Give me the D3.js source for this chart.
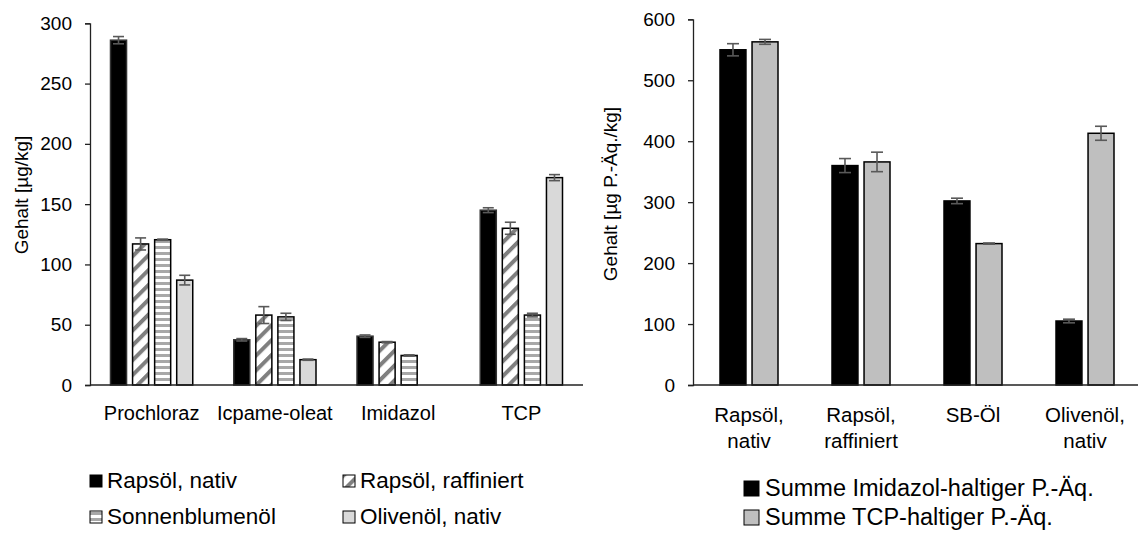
<!DOCTYPE html>
<html>
<head>
<meta charset="utf-8">
<script src="https://cdn.jsdelivr.net/npm/d3@7"></script>
<style>
  body { margin: 0; background: #fff; }
  svg text { font-family: "Liberation Sans", Arial, sans-serif; fill: #000; }
</style>
</head>
<body>
<svg id="chart" width="1138" height="538"></svg>
<script>
// left chart data
var categories = ['Prochloraz', 'Icpame-oleat', 'Imidazol', 'TCP'];
var seriesNames = ['Rapsöl, nativ', 'Rapsöl, raffiniert', 'Sonnenblumenöl', 'Olivenöl, nativ'];
var rapsNativ = [286, 37.5, 40.5, 145];
var rapsNativErr = [3, 1, 1, 2];
var rapsRaff = [117, 58, 35.5, 130];
var rapsRaffErr = [5, 7, 0.5, 5];
var sonnen = [120.5, 56.5, 24.5, 58];
var sonnenErr = [0.5, 3, 0.5, 1.5];
var oliven = [87, 21, 0, 172];
var olivenErr = [4, 0.5, 0, 2.5];
var leftTicks = [0, 50, 100, 150, 200, 250, 300];

// right chart data
var oils = [['Rapsöl,', 'nativ'], ['Rapsöl,', 'raffiniert'], ['SB-Öl'], ['Olivenöl,', 'nativ']];
var sumNames = ['Summe Imidazol-haltiger P.-Äq.', 'Summe TCP-haltiger P.-Äq.'];
var sumImidazol = [550, 360, 302, 105];
var sumImidazolErr = [10, 11.5, 4.5, 3];
var sumTcp = [563, 366, 232, 413];
var sumTcpErr = [4, 16, 1, 11.5];
var rightTicks = [0, 100, 200, 300, 400, 500, 600];

var svg = d3.select("#chart");

// patterns
var defs = svg.append("defs");
var diag = defs.append("pattern")
    .attr("id", "diag")
    .attr("patternUnits", "userSpaceOnUse")
    .attr("width", 10.5).attr("height", 10.5)
    .attr("patternTransform", "rotate(45)");
diag.append("rect").attr("width", 10.5).attr("height", 10.5).attr("fill", "#fff");
diag.append("rect").attr("width", 4).attr("height", 10.5).attr("fill", "#7f7f7f");

var horiz = defs.append("pattern")
    .attr("id", "horiz")
    .attr("patternUnits", "userSpaceOnUse")
    .attr("width", 6).attr("height", 6);
horiz.append("rect").attr("width", 6).attr("height", 6).attr("fill", "#fff");
horiz.append("rect").attr("width", 6).attr("height", 3).attr("fill", "#a8a8a8");

var leftFills = ["#000", "url(#diag)", "url(#horiz)", "#d9d9d9"];
var rightFills = ["#000", "#bfbfbf"];

function drawYAxis(g, scale, ticks, x) {
  var ax = g.append("g")
    .attr("transform", "translate(" + x + ",0)")
    .call(d3.axisLeft(scale).tickValues(ticks).tickSize(5).tickPadding(13));
  ax.select(".domain").attr("stroke", "#222").attr("stroke-width", 1.3);
  ax.selectAll(".tick line").attr("stroke", "#222").attr("stroke-width", 1.3);
  ax.selectAll("text").style("font-size", "19px").attr("font-family", null);
  return ax;
}

// ---------- left chart ----------
var left = svg.append("g");
var xL = d3.scaleBand().domain(categories).range([90, 583]);
var yL = d3.scaleLinear().domain([0, 300]).range([385, 23.3]);
var subL = d3.scaleBand().domain(d3.range(4))
  .range([20.5, xL.bandwidth() - 20.5]).paddingInner(0.273);

var leftData = [
  {vals: rapsNativ, err: rapsNativErr},
  {vals: rapsRaff, err: rapsRaffErr},
  {vals: sonnen, err: sonnenErr},
  {vals: oliven, err: olivenErr}
];

var leftBars = [];
categories.forEach(function(c, ci) {
  leftData.forEach(function(s, si) {
    leftBars.push({cat: c, s: si, v: s.vals[ci], e: s.err[ci]});
  });
});

left.selectAll("rect.bar").data(leftBars.filter(function(d) { return d.v > 0; }))
  .enter().append("rect")
  .attr("class", "bar")
  .attr("x", function(d) { return xL(d.cat) + subL(d.s); })
  .attr("y", function(d) { return yL(d.v); })
  .attr("width", subL.bandwidth())
  .attr("height", function(d) { return yL(0) - yL(d.v); })
  .attr("fill", function(d) { return leftFills[d.s]; })
  .attr("stroke", function(d) { return d.s === 0 ? "#333" : "#000"; })
  .attr("stroke-width", 1.5);

// error bars
var errL = left.selectAll("g.err").data(leftBars.filter(function(d) { return d.v > 0; }))
  .enter().append("g")
  .attr("transform", function(d) {
    return "translate(" + (xL(d.cat) + subL(d.s) + subL.bandwidth() / 2) + ",0)"; })
  .attr("stroke", "#595959").attr("stroke-width", 1.6);
errL.append("line").attr("y1", function(d) { return yL(d.v + d.e); })
  .attr("y2", function(d) { return yL(d.v - d.e); });
errL.append("line").attr("x1", -5.5).attr("x2", 5.5)
  .attr("y1", function(d) { return yL(d.v + d.e); }).attr("y2", function(d) { return yL(d.v + d.e); });
errL.append("line").attr("x1", -5.5).attr("x2", 5.5)
  .attr("y1", function(d) { return yL(d.v - d.e); }).attr("y2", function(d) { return yL(d.v - d.e); });

drawYAxis(left, yL, leftTicks, 90);
left.append("line").attr("x1", 90).attr("x2", 583).attr("y1", yL(0)).attr("y2", yL(0))
  .attr("stroke", "#222").attr("stroke-width", 1.3);

left.selectAll("text.cat").data(categories).enter().append("text")
  .attr("x", function(d) { return xL(d) + xL.bandwidth() / 2; })
  .attr("y", 420)
  .attr("text-anchor", "middle")
  .style("font-size", "20px")
  .text(function(d) { return d; });

left.append("text")
  .attr("transform", "translate(28,195) rotate(-90)")
  .attr("text-anchor", "middle")
  .style("font-size", "19px")
  .text("Gehalt [µg/kg]");

// legend left
var legL = left.selectAll("g.leg").data(seriesNames).enter().append("g")
  .attr("transform", function(d, i) {
    return "translate(" + (i % 2 === 0 ? 90 : 343) + "," + (i < 2 ? 488 : 524) + ")"; });
legL.append("rect").attr("x", 0).attr("y", -13).attr("width", 12).attr("height", 12)
  .attr("fill", function(d, i) { return leftFills[i]; })
  .attr("stroke", "#000").attr("stroke-width", 1);
legL.append("text").attr("x", 17).attr("y", 0)
  .style("font-size", "22.5px")
  .text(function(d) { return d; });

// ---------- right chart ----------
var right = svg.append("g");
var xR = d3.scaleBand().domain(d3.range(oils.length)).range([693, 1141]);
var yR = d3.scaleLinear().domain([0, 600]).range([385, 19.3]);
var subR = d3.scaleBand().domain([0, 1])
  .range([27, xR.bandwidth() - 27]).paddingInner(0.19);

var rightData = [
  {vals: sumImidazol, err: sumImidazolErr},
  {vals: sumTcp, err: sumTcpErr}
];
var rightBars = [];
oils.forEach(function(o, oi) {
  rightData.forEach(function(s, si) {
    rightBars.push({cat: oi, s: si, v: s.vals[oi], e: s.err[oi]});
  });
});

right.selectAll("rect.bar").data(rightBars).enter().append("rect")
  .attr("x", function(d) { return xR(d.cat) + subR(d.s); })
  .attr("y", function(d) { return yR(d.v); })
  .attr("width", subR.bandwidth())
  .attr("height", function(d) { return yR(0) - yR(d.v); })
  .attr("fill", function(d) { return rightFills[d.s]; })
  .attr("stroke", "#000").attr("stroke-width", 1.5);

var errR = right.selectAll("g.err").data(rightBars).enter().append("g")
  .attr("transform", function(d) {
    return "translate(" + (xR(d.cat) + subR(d.s) + subR.bandwidth() / 2) + ",0)"; })
  .attr("stroke", "#595959").attr("stroke-width", 1.6);
errR.append("line").attr("y1", function(d) { return yR(d.v + d.e); })
  .attr("y2", function(d) { return yR(d.v - d.e); });
errR.append("line").attr("x1", -6).attr("x2", 6)
  .attr("y1", function(d) { return yR(d.v + d.e); }).attr("y2", function(d) { return yR(d.v + d.e); });
errR.append("line").attr("x1", -6).attr("x2", 6)
  .attr("y1", function(d) { return yR(d.v - d.e); }).attr("y2", function(d) { return yR(d.v - d.e); });

drawYAxis(right, yR, rightTicks, 693);
right.append("line").attr("x1", 693).attr("x2", 1141).attr("y1", yR(0)).attr("y2", yR(0))
  .attr("stroke", "#222").attr("stroke-width", 1.3);

var catR = right.selectAll("text.cat").data(oils).enter().append("text")
  .attr("text-anchor", "middle")
  .style("font-size", "20.5px");
catR.selectAll("tspan").data(function(d, i) {
    return d.map(function(line, li) { return {line: line, li: li, i: i}; }); })
  .enter().append("tspan")
  .attr("x", function(d) { return xR(d.i) + xR.bandwidth() / 2; })
  .attr("y", function(d) { return 422 + d.li * 26; })
  .text(function(d) { return d.line; });

right.append("text")
  .attr("transform", "translate(617,194) rotate(-90)")
  .attr("text-anchor", "middle")
  .style("font-size", "19px")
  .text("Gehalt [µg P.-Äq./kg]");

var legR = right.selectAll("g.leg").data(sumNames).enter().append("g")
  .attr("transform", function(d, i) { return "translate(744," + (496 + i * 29) + ")"; });
legR.append("rect").attr("x", 0).attr("y", -15).attr("width", 15).attr("height", 15)
  .attr("fill", function(d, i) { return rightFills[i]; })
  .attr("stroke", "#000").attr("stroke-width", 1);
legR.append("text").attr("x", 21).attr("y", 0)
  .style("font-size", "23.5px")
  .text(function(d) { return d; });
</script>
</body>
</html>
